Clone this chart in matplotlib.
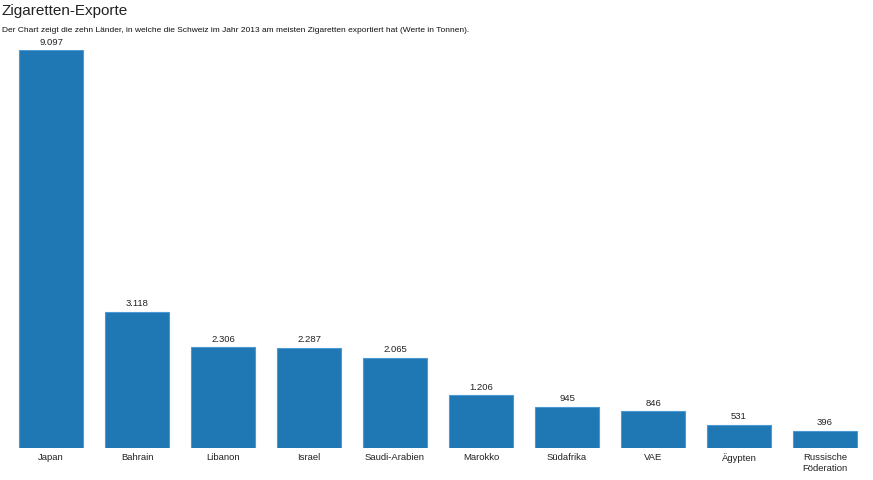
import matplotlib.pyplot as plt

plt.rcParams['font.family'] = ['Liberation Sans', 'DejaVu Sans']

# Daten: Zigaretten-Exporte der Schweiz 2013 (Tonnen)
laender = ["Japan", "Bahrain", "Libanon", "Israel", "Saudi-Arabien",
           "Marokko", "Südafrika", "VAE", "Ägypten", "Russische\nFöderation"]
tonnen = [9097, 3118, 2306, 2287, 2065, 1206, 945, 846, 531, 396]

W, H = 873, 480
fig = plt.figure(figsize=(W / 100, H / 100), dpi=100)
ax = fig.add_axes([8 / W, 32 / H, 860 / W, 398 / H])

x = range(len(laender))
ax.bar(x, tonnen, width=0.74, color="#1f77b4", edgecolor="#4a9ad6", linewidth=0.8)

ax.set_xlim(-0.5, len(laender) - 0.5)
ax.set_ylim(0, max(tonnen))
ax.axis("off")

for xi, v in zip(x, tonnen):
    txt = f"{v:,}".replace(",", ".")
    ax.annotate(txt, (xi, v), xytext=(0, 2.5), textcoords="offset points",
                ha="center", va="bottom", fontsize=6.8, color="#222222")

for xi, name in zip(x, laender):
    ax.annotate(name, (xi, 0), xytext=(0, -3.5), textcoords="offset points",
                ha="center", va="top", fontsize=6.8, color="#222222",
                linespacing=1.25)

fig.text(2 / W, 1 - 11 / H, "Zigaretten-Exporte", fontsize=11,
         va="center", ha="left", color="#222222")
fig.text(2 / W, 1 - 30 / H,
         "Der Chart zeigt die zehn Länder, in welche die Schweiz im Jahr 2013 "
         "am meisten Zigaretten exportiert hat (Werte in Tonnen).",
         fontsize=6.05, va="center", ha="left", color="#111111")

fig.savefig("out.png", dpi=100)
